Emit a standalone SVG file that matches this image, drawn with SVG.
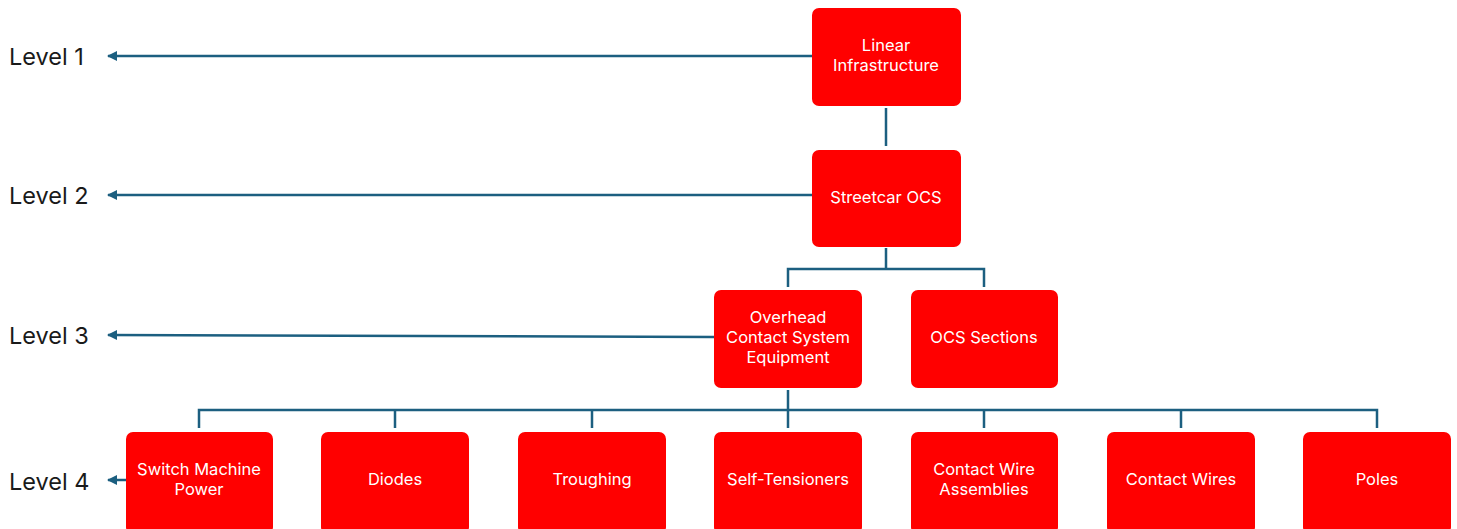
<svg xmlns="http://www.w3.org/2000/svg" width="1457" height="529" viewBox="0 0 1457 529">
  <defs>
    <marker id="arrow" viewBox="0 0 10 10" refX="9" refY="5" markerWidth="4" markerHeight="4" orient="auto">
      <path d="M0,0 L10,5 L0,10 z" fill="#1c5f80"/>
    </marker>
    <style>
      .box { fill: #ff0000; }
      .lbl { font-family: Inter, "Liberation Sans", sans-serif; font-size: 16.5px; fill: #ffffff; text-anchor: middle; }
      .lvl { font-family: Inter, "Liberation Sans", sans-serif; font-size: 23.5px; fill: #1a1a1a; }
      .wire { stroke: #1c5f80; stroke-width: 2.5; fill: none; }
    </style>
  </defs>
  <rect width="1457" height="529" fill="#ffffff"/>

  <!-- level labels -->
  <g id="levels">
    <text class="lvl" x="9" y="65">Level 1</text>
    <text class="lvl" x="9" y="204">Level 2</text>
    <text class="lvl" x="9" y="344">Level 3</text>
    <text class="lvl" x="9" y="490">Level 4</text>
  </g>

  <!-- connectors -->
  <g id="connectors">
    <line class="wire" x1="812" y1="56" x2="108" y2="56" marker-end="url(#arrow)"/>
    <line class="wire" x1="812" y1="195" x2="108" y2="195" marker-end="url(#arrow)"/>
    <line class="wire" x1="714" y1="337" x2="108" y2="335" marker-end="url(#arrow)"/>
    <line class="wire" x1="126" y1="480" x2="108" y2="480" marker-end="url(#arrow)"/>

    <line class="wire" x1="886" y1="108" x2="886" y2="146"/>
    <path class="wire" d="M886,248 V269 M788,287 V269 H984 V287"/>
    <path class="wire" d="M788,390 V428 M199,428 V410 H1377 V428 M395,410 V428 M592,410 V428 M984,410 V428 M1181,410 V428"/>
  </g>

  <!-- nodes -->
  <g id="n-linear">
    <rect class="box" x="812" y="8" width="149" height="98" rx="7"/>
    <text class="lbl" x="886" y="51">Linear</text>
    <text class="lbl" x="886" y="71">Infrastructure</text>
  </g>
  <g id="n-streetcar">
    <rect class="box" x="812" y="150" width="149" height="97" rx="7"/>
    <text class="lbl" x="886" y="203">Streetcar OCS</text>
  </g>
  <g id="n-oce">
    <rect class="box" x="714" y="290" width="148" height="98" rx="7"/>
    <text class="lbl" x="788" y="323">Overhead</text>
    <text class="lbl" x="788" y="343">Contact System</text>
    <text class="lbl" x="788" y="363">Equipment</text>
  </g>
  <g id="n-sections">
    <rect class="box" x="911" y="290" width="147" height="98" rx="7"/>
    <text class="lbl" x="984" y="343">OCS Sections</text>
  </g>
  <g id="n-switch">
    <rect class="box" x="126" y="432" width="147" height="102" rx="7"/>
    <text class="lbl" x="199" y="475">Switch Machine</text>
    <text class="lbl" x="199" y="495">Power</text>
  </g>
  <g id="n-diodes">
    <rect class="box" x="321" y="432" width="148" height="102" rx="7"/>
    <text class="lbl" x="395" y="485">Diodes</text>
  </g>
  <g id="n-troughing">
    <rect class="box" x="518" y="432" width="148" height="102" rx="7"/>
    <text class="lbl" x="592" y="485">Troughing</text>
  </g>
  <g id="n-tensioners">
    <rect class="box" x="714" y="432" width="148" height="102" rx="7"/>
    <text class="lbl" x="788" y="485">Self-Tensioners</text>
  </g>
  <g id="n-assemblies">
    <rect class="box" x="911" y="432" width="147" height="102" rx="7"/>
    <text class="lbl" x="984" y="475">Contact Wire</text>
    <text class="lbl" x="984" y="495">Assemblies</text>
  </g>
  <g id="n-wires">
    <rect class="box" x="1107" y="432" width="148" height="102" rx="7"/>
    <text class="lbl" x="1181" y="485">Contact Wires</text>
  </g>
  <g id="n-poles">
    <rect class="box" x="1303" y="432" width="148" height="102" rx="7"/>
    <text class="lbl" x="1377" y="485">Poles</text>
  </g>
</svg>
